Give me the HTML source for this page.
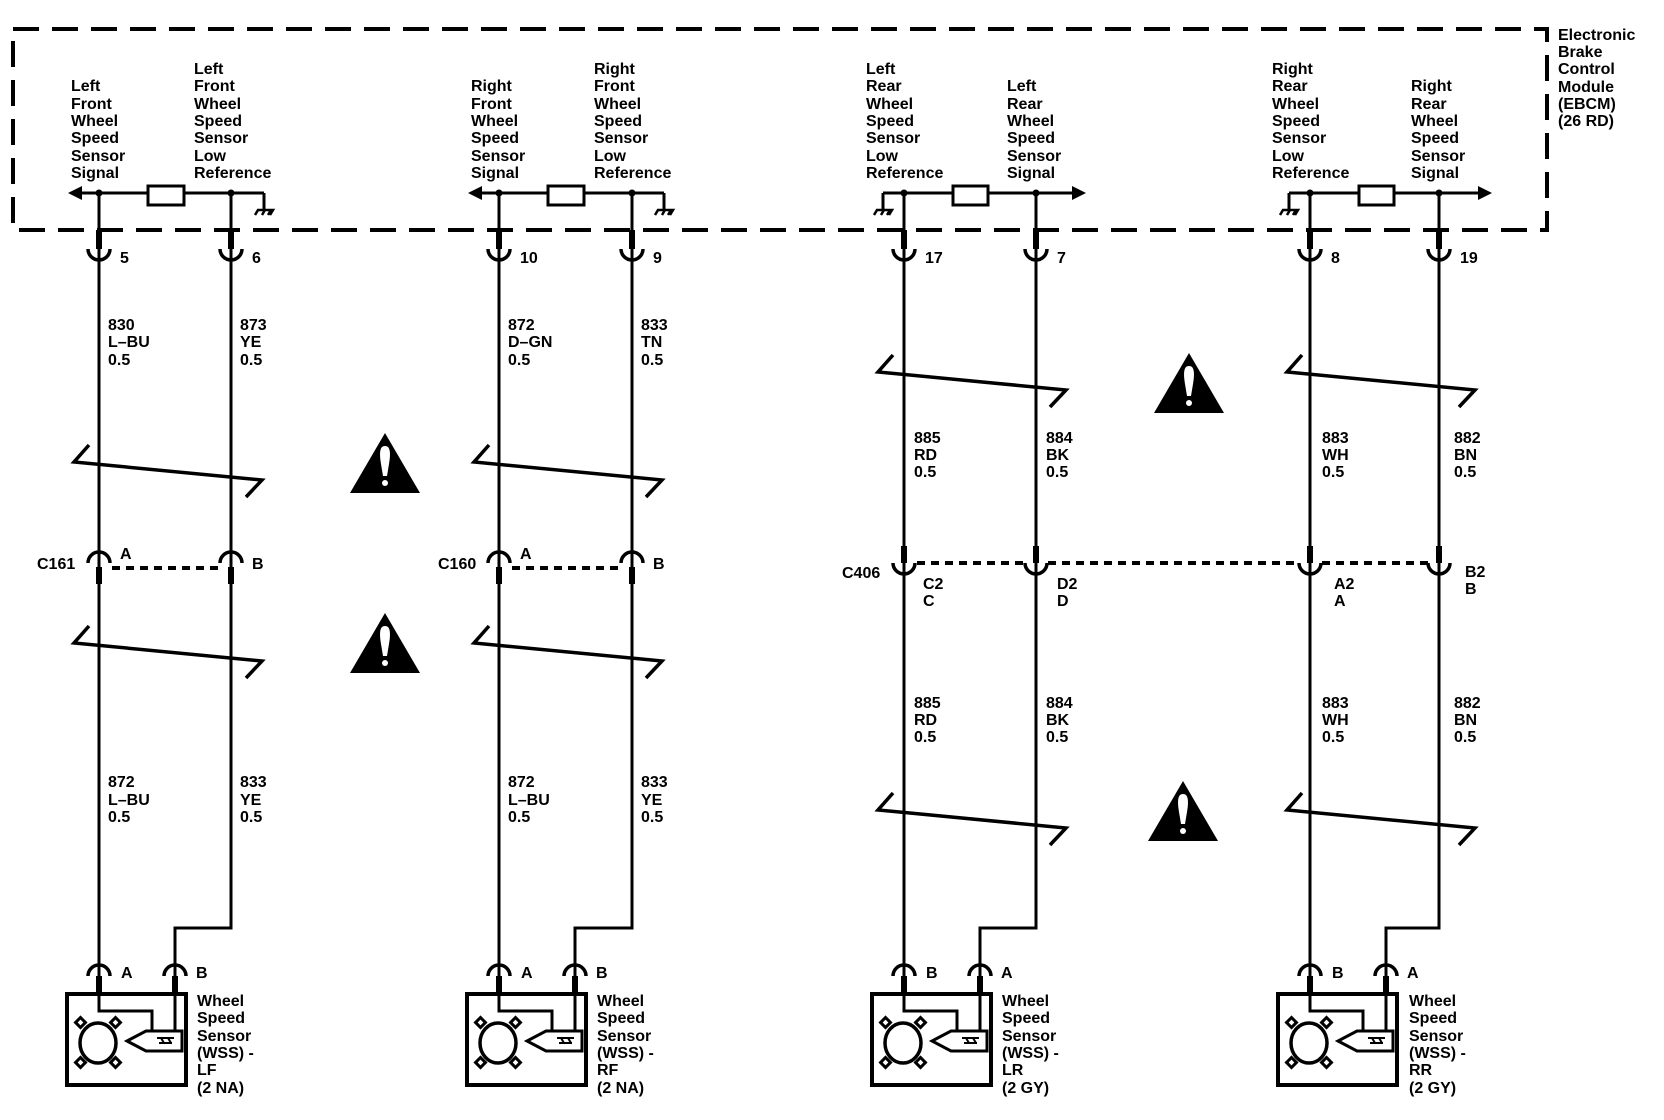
<!DOCTYPE html>
<html><head><meta charset="utf-8"><style>
html,body{margin:0;padding:0;background:#fff}
svg{display:block}
text{font-family:"Liberation Sans",Arial,sans-serif;font-size:16px;fill:#000}
.b{font-weight:bold}
</style></head><body>
<svg width="1664" height="1120" viewBox="0 0 1664 1120" xmlns="http://www.w3.org/2000/svg">
<defs>
<g id="gnd"><path d="M0 0V17" stroke="#000" stroke-width="3" fill="none"/><path d="M-9 22L-6 17H9L6 22M-2 22L1 17M4 22L7 17" stroke="#000" stroke-width="2.5" fill="none"/></g>
<g id="hdr"><rect x="-3" y="230" width="6" height="19" fill="#000"/><path d="M-11 249A11 11 0 0 0 11 249" stroke="#000" stroke-width="3.5" fill="none"/></g>
<g id="zz"><path d="M15 0L0 17L188 35L172 52" stroke="#000" stroke-width="3.5" fill="none"/></g>
<g id="tri"><polygon points="35,0 0,60 70,60" fill="#000"/><path d="M35 13c5 0 6 6 4 18l-2 12h-4l-2-12c-2-12-1-18 4-18z" fill="#fff"/><circle cx="35" cy="50" r="3" fill="#fff"/></g>
<g id="sensor">
<path d="M-11 976A11 11 0 0 1 11 976M65 976A11 11 0 0 1 87 976" stroke="#000" stroke-width="3.5" fill="none"/>
<rect x="-3" y="976" width="6" height="18" fill="#000"/><rect x="73" y="976" width="6" height="18" fill="#000"/>
<rect x="-32" y="994" width="119" height="91" fill="none" stroke="#000" stroke-width="4"/>
<path d="M0 994V1011H53V1031M76 994V1031" stroke="#000" stroke-width="3" fill="none"/>
<path d="M83 1031H47L28 1041L47 1051H83Z" stroke="#000" stroke-width="3" fill="none"/>
<path d="M58 1038H75M60 1043H73M62 1038L65 1043M69 1038L72 1043" stroke="#000" stroke-width="2" fill="none"/>
<ellipse cx="-1" cy="1043" rx="18" ry="20" fill="none" stroke="#000" stroke-width="3.5"/>
<g stroke="#000" stroke-width="3" fill="#fff"><rect x="-22" y="1019" width="7" height="7" transform="rotate(45 -18.5 1022.5)"/><rect x="13" y="1019" width="7" height="7" transform="rotate(45 16.5 1022.5)"/><rect x="-22" y="1059" width="7" height="7" transform="rotate(45 -18.5 1062.5)"/><rect x="13" y="1059" width="7" height="7" transform="rotate(45 16.5 1062.5)"/></g>
</g>
</defs>

<!-- EBCM dashed border -->
<rect x="13" y="29" width="1534" height="201" fill="none" stroke="#000" stroke-width="4" stroke-dasharray="26 13"/>
<g class="b"><text x="1558" y="40">Electronic</text><text x="1558" y="57">Brake</text><text x="1558" y="74">Control</text><text x="1558" y="92">Module</text><text x="1558" y="109">(EBCM)</text><text x="1558" y="126">(26 RD)</text></g>

<!-- ===== Front buses ===== -->
<g id="fbus" stroke="#000" stroke-width="3" fill="none">
<path d="M80 193H264"/><rect x="148" y="186" width="36" height="19" fill="#fff"/>
</g>
<polygon points="68,193 82,186 82,200"/><circle cx="99" cy="193" r="3.5"/><circle cx="231" cy="193" r="3.5"/>
<use href="#gnd" x="264" y="193"/>
<path d="M99 193V1000M231 193V928H175V1000" stroke="#000" stroke-width="3" fill="none"/>
<use href="#hdr" x="99"/><use href="#hdr" x="231"/>

<g transform="translate(400,0)">
<path d="M80 193H264" stroke="#000" stroke-width="3"/><rect x="148" y="186" width="36" height="19" fill="#fff" stroke="#000" stroke-width="3"/>
<polygon points="68,193 82,186 82,200"/><circle cx="99" cy="193" r="3.5"/><circle cx="232" cy="193" r="3.5"/>
<use href="#gnd" x="264" y="193"/>
<path d="M99 193V1000M232 193V928H175V1000" stroke="#000" stroke-width="3" fill="none"/>
<use href="#hdr" x="99"/><use href="#hdr" x="232"/>
</g>

<!-- Rear buses -->
<g>
<path d="M883 193H1074" stroke="#000" stroke-width="3"/><rect x="953" y="186" width="35" height="19" fill="#fff" stroke="#000" stroke-width="3"/>
<polygon points="1086,193 1072,186 1072,200"/><circle cx="904" cy="193" r="3.5"/><circle cx="1036" cy="193" r="3.5"/>
<use href="#gnd" x="883" y="193"/>
<path d="M904 193V1000M1036 193V928H980V1000" stroke="#000" stroke-width="3" fill="none"/>
<use href="#hdr" x="904"/><use href="#hdr" x="1036"/>
</g>
<g transform="translate(406,0)">
<path d="M883 193H1074" stroke="#000" stroke-width="3"/><rect x="953" y="186" width="35" height="19" fill="#fff" stroke="#000" stroke-width="3"/>
<polygon points="1086,193 1072,186 1072,200"/><circle cx="904" cy="193" r="3.5"/><circle cx="1033" cy="193" r="3.5"/>
<use href="#gnd" x="883" y="193"/>
<path d="M904 193V1000M1033 193V928H980V1000" stroke="#000" stroke-width="3" fill="none"/>
<use href="#hdr" x="904"/><use href="#hdr" x="1033"/>
</g>

<!-- Top labels -->
<g class="b">
<text x="71" y="91">Left</text><text x="71" y="109">Front</text><text x="71" y="126">Wheel</text><text x="71" y="143">Speed</text><text x="71" y="161">Sensor</text><text x="71" y="178">Signal</text>
<text x="194" y="74">Left</text><text x="194" y="91">Front</text><text x="194" y="109">Wheel</text><text x="194" y="126">Speed</text><text x="194" y="143">Sensor</text><text x="194" y="161">Low</text><text x="194" y="178">Reference</text>
<text x="471" y="91">Right</text><text x="471" y="109">Front</text><text x="471" y="126">Wheel</text><text x="471" y="143">Speed</text><text x="471" y="161">Sensor</text><text x="471" y="178">Signal</text>
<text x="594" y="74">Right</text><text x="594" y="91">Front</text><text x="594" y="109">Wheel</text><text x="594" y="126">Speed</text><text x="594" y="143">Sensor</text><text x="594" y="161">Low</text><text x="594" y="178">Reference</text>
<text x="866" y="74">Left</text><text x="866" y="91">Rear</text><text x="866" y="109">Wheel</text><text x="866" y="126">Speed</text><text x="866" y="143">Sensor</text><text x="866" y="161">Low</text><text x="866" y="178">Reference</text>
<text x="1007" y="91">Left</text><text x="1007" y="109">Rear</text><text x="1007" y="126">Wheel</text><text x="1007" y="143">Speed</text><text x="1007" y="161">Sensor</text><text x="1007" y="178">Signal</text>
<text x="1272" y="74">Right</text><text x="1272" y="91">Rear</text><text x="1272" y="109">Wheel</text><text x="1272" y="126">Speed</text><text x="1272" y="143">Sensor</text><text x="1272" y="161">Low</text><text x="1272" y="178">Reference</text>
<text x="1411" y="91">Right</text><text x="1411" y="109">Rear</text><text x="1411" y="126">Wheel</text><text x="1411" y="143">Speed</text><text x="1411" y="161">Sensor</text><text x="1411" y="178">Signal</text>
</g>
<!-- pin numbers -->
<g class="b"><text x="120" y="263">5</text><text x="252" y="263">6</text><text x="520" y="263">10</text><text x="653" y="263">9</text><text x="925" y="263">17</text><text x="1057" y="263">7</text><text x="1331" y="263">8</text><text x="1460" y="263">19</text></g>

<!-- wire labels upper -->
<g class="b">
<text x="108" y="330">830</text><text x="108" y="347">L–BU</text><text x="108" y="365">0.5</text>
<text x="240" y="330">873</text><text x="240" y="347">YE</text><text x="240" y="365">0.5</text>
<text x="508" y="330">872</text><text x="508" y="347">D–GN</text><text x="508" y="365">0.5</text>
<text x="641" y="330">833</text><text x="641" y="347">TN</text><text x="641" y="365">0.5</text>
<text x="914" y="443">885</text><text x="914" y="460">RD</text><text x="914" y="477">0.5</text>
<text x="1046" y="443">884</text><text x="1046" y="460">BK</text><text x="1046" y="477">0.5</text>
<text x="1322" y="443">883</text><text x="1322" y="460">WH</text><text x="1322" y="477">0.5</text>
<text x="1454" y="443">882</text><text x="1454" y="460">BN</text><text x="1454" y="477">0.5</text>
<!-- lower -->
<text x="108" y="787">872</text><text x="108" y="805">L–BU</text><text x="108" y="822">0.5</text>
<text x="240" y="787">833</text><text x="240" y="805">YE</text><text x="240" y="822">0.5</text>
<text x="508" y="787">872</text><text x="508" y="805">L–BU</text><text x="508" y="822">0.5</text>
<text x="641" y="787">833</text><text x="641" y="805">YE</text><text x="641" y="822">0.5</text>
<text x="914" y="708">885</text><text x="914" y="725">RD</text><text x="914" y="742">0.5</text>
<text x="1046" y="708">884</text><text x="1046" y="725">BK</text><text x="1046" y="742">0.5</text>
<text x="1322" y="708">883</text><text x="1322" y="725">WH</text><text x="1322" y="742">0.5</text>
<text x="1454" y="708">882</text><text x="1454" y="725">BN</text><text x="1454" y="742">0.5</text>
</g>

<!-- zigzags -->
<use href="#zz" x="74" y="445"/><use href="#zz" x="74" y="626"/>
<use href="#zz" x="474" y="445"/><use href="#zz" x="474" y="626"/>
<use href="#zz" x="878" y="355"/><use href="#zz" x="1287" y="355"/>
<use href="#zz" x="878" y="793"/><use href="#zz" x="1287" y="793"/>
<!-- triangles -->
<use href="#tri" x="350" y="433"/><use href="#tri" x="350" y="613"/>
<use href="#tri" x="1154" y="353"/><use href="#tri" x="1148" y="781"/>

<!-- C161 / C160 -->
<g stroke="#000" fill="none">
<path d="M88 563A11 11 0 0 1 110 563M220 563A11 11 0 0 1 242 563M488 563A11 11 0 0 1 510 563M621 563A11 11 0 0 1 643 563" stroke-width="3.5"/>
<path d="M112 568H220M512 568H621" stroke-width="4" stroke-dasharray="8 6"/>
<path d="M99 567V584M231 567V584M499 567V584M632 567V584" stroke-width="6"/>
<!-- C406 -->
<path d="M904 546V563M1036 546V563M1310 546V563M1439 546V563" stroke-width="6"/>
<path d="M893 563A11 11 0 0 0 915 563M1025 563A11 11 0 0 0 1047 563M1299 563A11 11 0 0 0 1321 563M1428 563A11 11 0 0 0 1450 563" stroke-width="3.5"/>
<path d="M917 563H1026M1048 563H1298M1322 563H1428" stroke-width="4" stroke-dasharray="8 6"/>
</g>
<g class="b">
<text x="37" y="569">C161</text><text x="120" y="559">A</text><text x="252" y="569">B</text>
<text x="438" y="569">C160</text><text x="520" y="559">A</text><text x="653" y="569">B</text>
<text x="842" y="578">C406</text>
<text x="923" y="589">C2</text><text x="923" y="606">C</text>
<text x="1057" y="589">D2</text><text x="1057" y="606">D</text>
<text x="1334" y="589">A2</text><text x="1334" y="606">A</text>
<text x="1465" y="577">B2</text><text x="1465" y="594">B</text>
</g>

<!-- sensors -->
<use href="#sensor" x="99"/><use href="#sensor" x="499"/><use href="#sensor" x="904"/><use href="#sensor" x="1310"/>
<g class="b">
<text x="121" y="978">A</text><text x="196" y="978">B</text>
<text x="521" y="978">A</text><text x="596" y="978">B</text>
<text x="926" y="978">B</text><text x="1001" y="978">A</text>
<text x="1332" y="978">B</text><text x="1407" y="978">A</text>
<text x="197" y="1006">Wheel</text><text x="197" y="1023">Speed</text><text x="197" y="1041">Sensor</text><text x="197" y="1058">(WSS) -</text><text x="197" y="1075">LF</text><text x="197" y="1093">(2 NA)</text>
<text x="597" y="1006">Wheel</text><text x="597" y="1023">Speed</text><text x="597" y="1041">Sensor</text><text x="597" y="1058">(WSS) -</text><text x="597" y="1075">RF</text><text x="597" y="1093">(2 NA)</text>
<text x="1002" y="1006">Wheel</text><text x="1002" y="1023">Speed</text><text x="1002" y="1041">Sensor</text><text x="1002" y="1058">(WSS) -</text><text x="1002" y="1075">LR</text><text x="1002" y="1093">(2 GY)</text>
<text x="1409" y="1006">Wheel</text><text x="1409" y="1023">Speed</text><text x="1409" y="1041">Sensor</text><text x="1409" y="1058">(WSS) -</text><text x="1409" y="1075">RR</text><text x="1409" y="1093">(2 GY)</text>
</g>
</svg>
</body></html>
